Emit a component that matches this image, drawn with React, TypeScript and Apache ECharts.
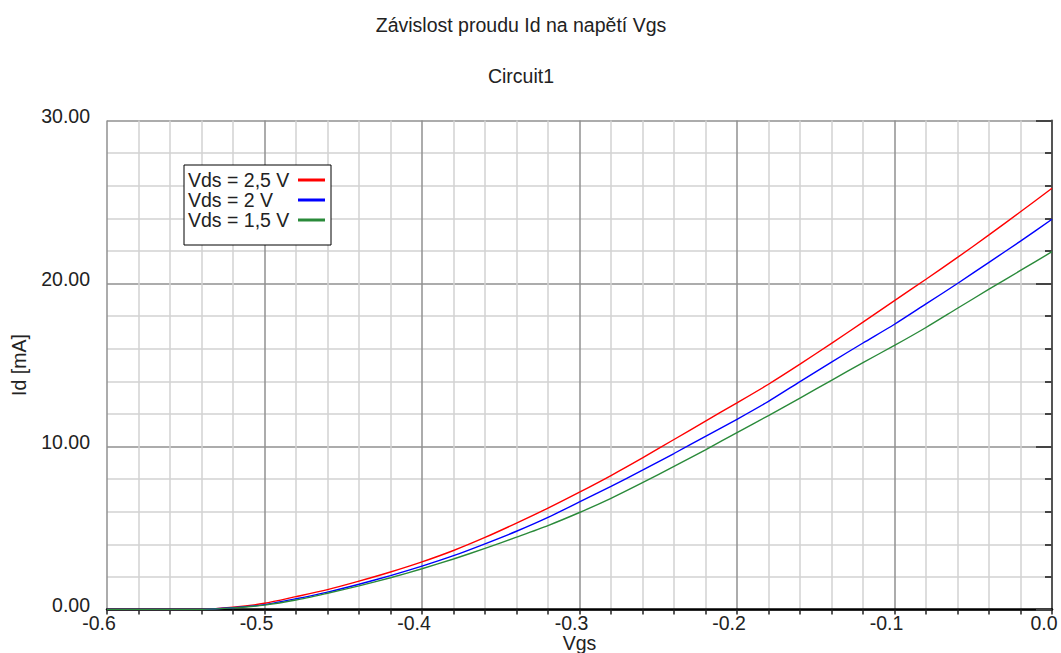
import { useEffect, useRef } from 'react';
import * as echarts from 'echarts';

const titleText = 'Závislost proudu Id na napětí Vgs';
const subtitleText = 'Circuit1';
const xAxisName = 'Vgs';
const yAxisName = 'Id [mA]';
const seriesNames = ['Vds = 2,5 V', 'Vds = 2 V', 'Vds = 1,5 V'];
const seriesColors = ['#ff0000', '#0000ff', '#2a8a3a'];

const vgs = [
  -0.6, -0.58, -0.56, -0.54, -0.52, -0.5, -0.48, -0.46, -0.44, -0.42, -0.4,
  -0.38, -0.36, -0.34, -0.32, -0.3, -0.28, -0.26, -0.24, -0.22, -0.2,
  -0.18, -0.16, -0.14, -0.12, -0.1, -0.08, -0.06, -0.04, -0.02, 0,
];
const idVds25 = [
  0, 0, 0, 0.01, 0.14, 0.38, 0.79, 1.22, 1.74, 2.3, 2.92,
  3.62, 4.42, 5.3, 6.22, 7.2, 8.22, 9.3, 10.43, 11.56, 12.68,
  13.82, 15.05, 16.33, 17.63, 18.95, 20.26, 21.6, 22.98, 24.4, 25.84,
];
const idVds20 = [
  0, 0, 0, 0.01, 0.11, 0.3, 0.66, 1.07, 1.55, 2.08, 2.66,
  3.3, 4.03, 4.8, 5.65, 6.6, 7.55, 8.55, 9.57, 10.62, 11.67,
  12.77, 13.98, 15.18, 16.35, 17.5, 18.75, 20.0, 21.3, 22.6, 23.94,
];
const idVds15 = [
  0, 0, 0, 0.01, 0.1, 0.27, 0.58, 1.0, 1.45, 1.95, 2.5,
  3.1, 3.75, 4.44, 5.15, 5.95, 6.82, 7.78, 8.78, 9.8, 10.85,
  11.9, 12.97, 14.06, 15.15, 16.2, 17.3, 18.48, 19.65, 20.8, 21.95,
];
const seriesValues = [idVds25, idVds20, idVds15];

const FONT = '"Liberation Sans", Arial, sans-serif';
const FS = 19.5;

export default function App() {
  const ref = useRef<HTMLDivElement>(null);
  useEffect(() => {
    if (!ref.current) return;
    const chart = echarts.init(ref.current, undefined, { renderer: 'svg' });
    chart.setOption({
      animation: false,
      backgroundColor: '#ffffff',
      textStyle: { fontFamily: FONT },
      title: [
        {
          text: titleText,
          left: 516,
          top: 10,
          textAlign: 'center',
          textStyle: { fontFamily: FONT, fontSize: FS, fontWeight: 'normal', color: '#222' },
        },
        {
          text: subtitleText,
          left: 516,
          top: 61,
          textAlign: 'center',
          textStyle: { fontFamily: FONT, fontSize: FS, fontWeight: 'normal', color: '#222' },
        },
      ],
      legend: {
        data: seriesNames,
        orient: 'vertical',
        left: 184,
        top: 165,
        align: 'right',
        icon: 'rect',
        itemWidth: 27,
        itemHeight: 3,
        itemGap: 0,
        padding: [5, 6, 15, 4],
        backgroundColor: '#ffffff',
        borderColor: '#000000',
        borderWidth: 1,
        borderRadius: 0,
        formatter: '{t|{name}}',
        textStyle: {
          fontFamily: FONT,
          fontSize: FS,
          color: '#222',
          rich: {
            t: {
              fontFamily: FONT,
              fontSize: FS,
              color: '#222',
              width: 105,
              align: 'left',
              lineHeight: 21,
            },
          },
        },
      },
      grid: {
        left: 107,
        right: 9,
        top: 120.5,
        bottom: 43.5,
        containLabel: false,
        outerBoundsMode: 'none',
      },
      xAxis: {
        type: 'value',
        min: -0.6,
        max: 0,
        interval: 0.1,
        name: xAxisName,
        nameLocation: 'middle',
        nameGap: 24,
        nameMoveOverlap: false,
        nameTextStyle: { fontFamily: FONT, fontSize: FS, color: '#222', lineHeight: 19 },
        axisLine: { show: true, onZero: false, lineStyle: { color: '#000', width: 2.5 } },
        axisTick: { show: true, length: 5, lineStyle: { color: '#222', width: 1.5 } },
        minorTick: { show: true, splitNumber: 5, length: 5, lineStyle: { color: '#222', width: 1.5 } },
        axisLabel: {
          fontFamily: FONT,
          fontSize: FS,
          color: '#222',
          margin: 3,
          lineHeight: 20,
          padding: [0, 16, 0, 0],
          formatter: (v: number) => v.toFixed(1),
        },
        splitLine: { show: true, lineStyle: { color: '#909090', width: 1.5 } },
        minorSplitLine: { show: true, lineStyle: { color: '#d2d2d2', width: 1.5 } },
      },
      yAxis: {
        type: 'value',
        min: 0,
        max: 30,
        interval: 10,
        name: yAxisName,
        nameLocation: 'middle',
        nameGap: 78,
        nameMoveOverlap: false,
        nameTextStyle: { fontFamily: FONT, fontSize: FS, color: '#222' },
        axisLine: { show: true, lineStyle: { color: '#555', width: 2 } },
        axisTick: { show: true, length: 16, lineStyle: { color: '#444', width: 2 } },
        minorTick: { show: true, splitNumber: 5, length: 7, lineStyle: { color: '#444', width: 2 } },
        axisLabel: {
          fontFamily: FONT,
          fontSize: FS,
          color: '#222',
          margin: 17,
          verticalAlign: 'bottom',
          lineHeight: 9,
          formatter: (v: number) => v.toFixed(2),
        },
        splitLine: { show: true, lineStyle: { color: '#909090', width: 1.5 } },
        minorSplitLine: { show: true, lineStyle: { color: '#d2d2d2', width: 1.5 } },
      },
      series: seriesNames.map((name, i) => ({
        name,
        type: 'line',
        data: vgs.map((x, j) => [x, seriesValues[i][j]]),
        showSymbol: false,
        symbol: 'none',
        smooth: 0.25,
        color: seriesColors[i],
        lineStyle: { color: seriesColors[i], width: 1.4 },
        z: 3 + i,
      })),
    });
    return () => chart.dispose();
  }, []);
  return (
    <div
      ref={ref}
      style={{ position: 'fixed', left: 0, top: 0, width: 1061, height: 653 }}
    />
  );
}
